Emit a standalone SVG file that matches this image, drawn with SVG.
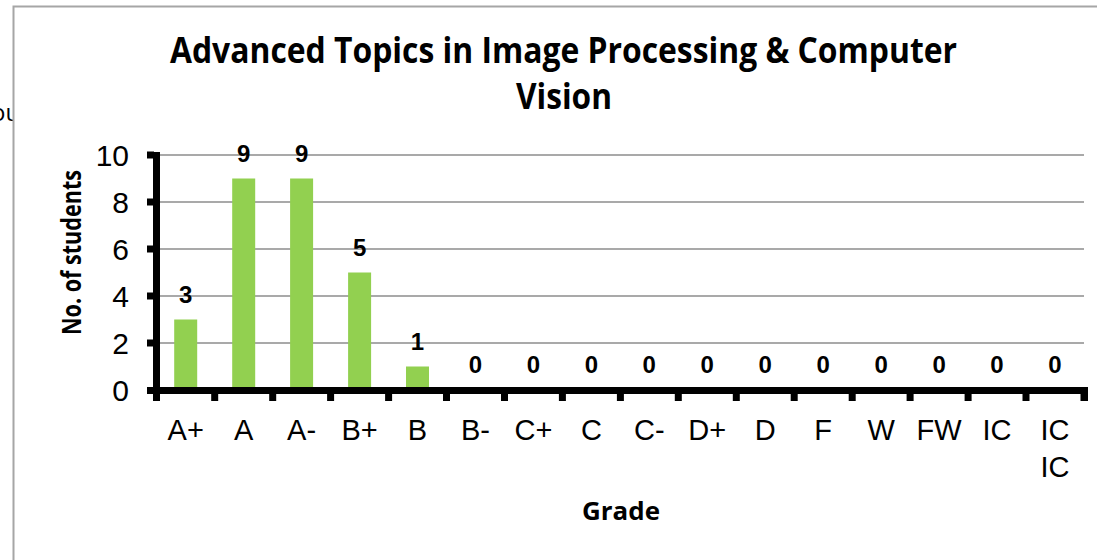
<svg xmlns="http://www.w3.org/2000/svg" width="1097" height="560" viewBox="0 0 1097 560">
<style>
.bar{fill:#92D050}
.grid{stroke:#8c8c8c;stroke-width:1.5}
.ax{fill:#000}
.yl{font-family:"Liberation Sans",Arial,sans-serif;font-size:30px;fill:#000;text-anchor:end}
.xl{font-family:"Liberation Sans",Arial,sans-serif;font-size:29px;fill:#000;text-anchor:middle}
.vl{font-family:"Liberation Sans",Arial,sans-serif;font-size:24px;font-weight:bold;fill:#000;text-anchor:middle}
.tt{font-family:"Open Sans","Noto Sans",sans-serif;font-weight:bold;fill:#000;text-anchor:middle}
</style>
<rect x="0" y="0" width="1097" height="560" fill="#fff"/>
<text x="-9" y="121" style="font-family:'Open Sans',sans-serif;font-size:24px" fill="#000">ou</text>
<rect x="13.5" y="6.5" width="1090" height="560" fill="#fff"/>
<path d="M13.5,560 V6.5 H1097" fill="none" stroke="#a6a6a6" stroke-width="2"/>
<g id="title">
<text class="tt" x="563.5" y="63" font-size="35" textLength="787" lengthAdjust="spacingAndGlyphs">Advanced Topics in Image Processing &amp; Computer</text>
<text class="tt" x="564" y="109" font-size="35" textLength="96" lengthAdjust="spacingAndGlyphs">Vision</text>
</g>
<g id="grid">
<line class="grid" x1="160" y1="155" x2="1084" y2="155"/>
<line class="grid" x1="160" y1="202" x2="1084" y2="202"/>
<line class="grid" x1="160" y1="249" x2="1084" y2="249"/>
<line class="grid" x1="160" y1="296" x2="1084" y2="296"/>
<line class="grid" x1="160" y1="343" x2="1084" y2="343"/>
</g>
<g id="bars">
<rect class="bar" x="174.2" y="319.5" width="23" height="70.5"/>
<rect class="bar" x="232.2" y="178.5" width="23" height="211.5"/>
<rect class="bar" x="290.1" y="178.5" width="23" height="211.5"/>
<rect class="bar" x="348.1" y="272.5" width="23" height="117.5"/>
<rect class="bar" x="406" y="366.5" width="23" height="23.5"/>
</g>
<g id="axes">
<rect class="ax" x="153" y="152" width="7" height="249"/>
<rect class="ax" x="147" y="151.5" width="7" height="7"/>
<rect class="ax" x="147" y="198.5" width="7" height="7"/>
<rect class="ax" x="147" y="245.5" width="7" height="7"/>
<rect class="ax" x="147" y="292.5" width="7" height="7"/>
<rect class="ax" x="147" y="339.5" width="7" height="7"/>
<rect class="ax" x="147" y="387" width="941" height="7"/>
<rect class="ax" x="211.2" y="393" width="7" height="8"/>
<rect class="ax" x="269.2" y="393" width="7" height="8"/>
<rect class="ax" x="327.1" y="393" width="7" height="8"/>
<rect class="ax" x="385.1" y="393" width="7" height="8"/>
<rect class="ax" x="443" y="393" width="7" height="8"/>
<rect class="ax" x="501" y="393" width="7" height="8"/>
<rect class="ax" x="558.9" y="393" width="7" height="8"/>
<rect class="ax" x="616.9" y="393" width="7" height="8"/>
<rect class="ax" x="674.8" y="393" width="7" height="8"/>
<rect class="ax" x="732.8" y="393" width="7" height="8"/>
<rect class="ax" x="790.7" y="393" width="7" height="8"/>
<rect class="ax" x="848.7" y="393" width="7" height="8"/>
<rect class="ax" x="906.6" y="393" width="7" height="8"/>
<rect class="ax" x="964.6" y="393" width="7" height="8"/>
<rect class="ax" x="1022.5" y="393" width="7" height="8"/>
<rect class="ax" x="1080.5" y="393" width="7.5" height="8"/>
</g>
<g id="y-labels">
<text class="yl" x="129" y="166">10</text>
<text class="yl" x="129" y="213">8</text>
<text class="yl" x="129" y="260">6</text>
<text class="yl" x="129" y="307">4</text>
<text class="yl" x="129" y="354">2</text>
<text class="yl" x="129" y="401">0</text>
</g>
<g id="value-labels">
<text class="vl" x="185.7" y="302.5">3</text>
<text class="vl" x="243.7" y="161.5">9</text>
<text class="vl" x="301.6" y="161.5">9</text>
<text class="vl" x="359.6" y="255.5">5</text>
<text class="vl" x="417.5" y="349.5">1</text>
<text class="vl" x="475.5" y="373">0</text>
<text class="vl" x="533.4" y="373">0</text>
<text class="vl" x="591.4" y="373">0</text>
<text class="vl" x="649.3" y="373">0</text>
<text class="vl" x="707.3" y="373">0</text>
<text class="vl" x="765.2" y="373">0</text>
<text class="vl" x="823.2" y="373">0</text>
<text class="vl" x="881.1" y="373">0</text>
<text class="vl" x="939.1" y="373">0</text>
<text class="vl" x="997" y="373">0</text>
<text class="vl" x="1055" y="373">0</text>
</g>
<g id="x-labels">
<text class="xl" x="185.7" y="439.5">A+</text>
<text class="xl" x="243.7" y="439.5">A</text>
<text class="xl" x="301.6" y="439.5">A-</text>
<text class="xl" x="359.6" y="439.5">B+</text>
<text class="xl" x="417.5" y="439.5">B</text>
<text class="xl" x="475.5" y="439.5">B-</text>
<text class="xl" x="533.4" y="439.5">C+</text>
<text class="xl" x="591.4" y="439.5">C</text>
<text class="xl" x="649.3" y="439.5">C-</text>
<text class="xl" x="707.3" y="439.5">D+</text>
<text class="xl" x="765.2" y="439.5">D</text>
<text class="xl" x="823.2" y="439.5">F</text>
<text class="xl" x="881.1" y="439.5">W</text>
<text class="xl" x="939.1" y="439.5">FW</text>
<text class="xl" x="997" y="439.5">IC</text>
<text class="xl" x="1055" y="439.5">IC</text>
<text class="xl" x="1055" y="477">IC</text>
</g>
<g id="axis-titles">
<text class="tt" x="621" y="520" font-size="25" textLength="78" lengthAdjust="spacingAndGlyphs">Grade</text>
<text class="tt" transform="translate(81,252.5) rotate(-90)" x="0" y="0" font-size="26" textLength="165" lengthAdjust="spacingAndGlyphs">No. of students</text>
</g>
</svg>
